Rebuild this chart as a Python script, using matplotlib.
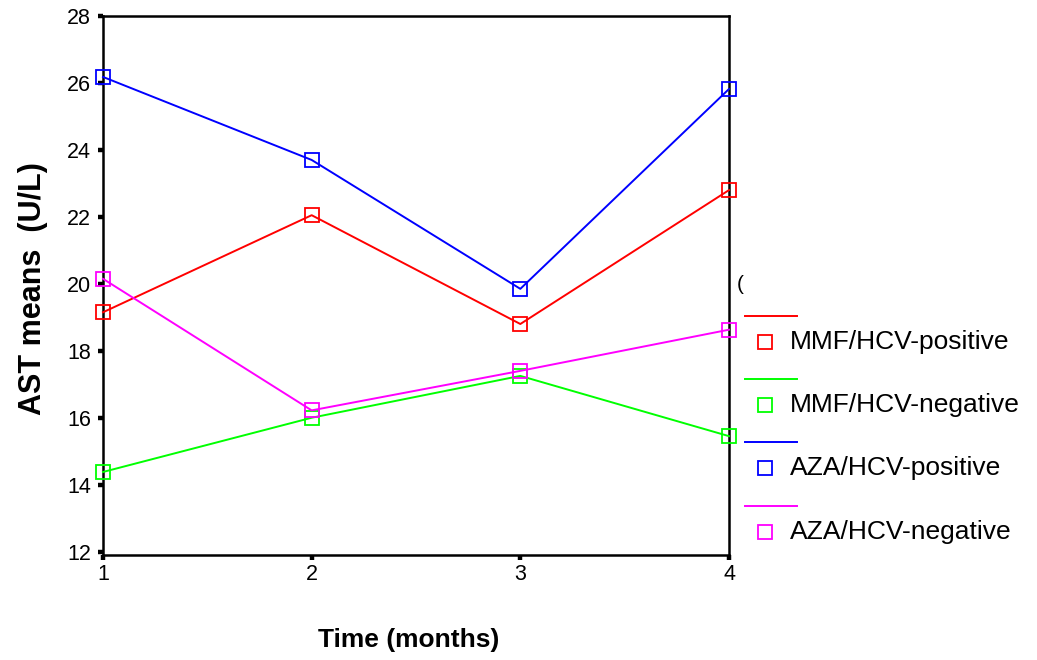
import matplotlib
matplotlib.use("Agg")
import matplotlib.pyplot as plt
from matplotlib.lines import Line2D

plt.rcParams['font.family'] = ['Liberation Sans', 'DejaVu Sans']

months = [1, 2, 3, 4]
series_names = ["MMF/HCV-positive", "MMF/HCV-negative", "AZA/HCV-positive", "AZA/HCV-negative"]
series_colors = ["#ff0000", "#00ff00", "#0000ff", "#ff00ff"]
mmf_pos = [19.15, 22.05, 18.8, 22.8]
mmf_neg = [14.38, 16.0, 17.25, 15.45]
aza_pos = [26.18, 23.7, 19.85, 25.82]
aza_neg = [20.15, 16.22, 17.4, 18.63]
series_values = [mmf_pos, mmf_neg, aza_pos, aza_neg]
y_ticks = [12, 14, 16, 18, 20, 22, 24, 26, 28]

fig = plt.figure(figsize=(10.37, 6.6), dpi=100)
ax = fig.add_axes([103/1037, 1-555/660, (729-103)/1037, (555-16)/660])

for vals, col in zip(series_values, series_colors):
    ax.plot(months, vals, color=col, lw=1.4, marker='s', markersize=9.5,
            markerfacecolor='none', markeredgecolor=col, markeredgewidth=1.3,
            clip_on=False, zorder=3)

ax.set_xlim(1, 4)
ax.set_ylim(11.9, 28)
ax.set_xticks(months)
ax.set_yticks(y_ticks)
ax.tick_params(direction='out', length=3.8, width=3.2, labelsize=15.5, color='black')
ax.tick_params(axis='y', pad=5)
ax.tick_params(axis='x', pad=3)
for s in ax.spines.values():
    s.set_linewidth(1.8)
    s.set_color('black')

ax.set_ylabel("AST means  (U/L)", fontsize=22, fontweight='bold', va='center')
ax.yaxis.set_label_coords(-0.112, 0.495)
ax.set_xlabel("Time (months)", fontsize=19, fontweight='bold', va='center')
ax.xaxis.set_label_coords(0.489, -0.158)

# Legend (SPSS style: line above, marker + label below)
fig.text(737/1037, 1-284/660, "(", fontsize=15, va='center', ha='left')
line_y = [316, 379, 442, 506]
for name, col, ly in zip(series_names, series_colors, line_y):
    fig.add_artist(Line2D([745/1037, 797/1037], [1-ly/660, 1-ly/660],
                          color=col, lw=1.4, transform=fig.transFigure))
    my = ly + 26
    fig.add_artist(Line2D([765/1037], [1-my/660], marker='s', markersize=9.5,
                          markerfacecolor='none', markeredgecolor=col,
                          markeredgewidth=1.3, linestyle='none',
                          transform=fig.transFigure))
    fig.text(790/1037, 1-my/660, name, fontsize=19, va='center', ha='left')

fig.savefig("out.png", dpi=100)
